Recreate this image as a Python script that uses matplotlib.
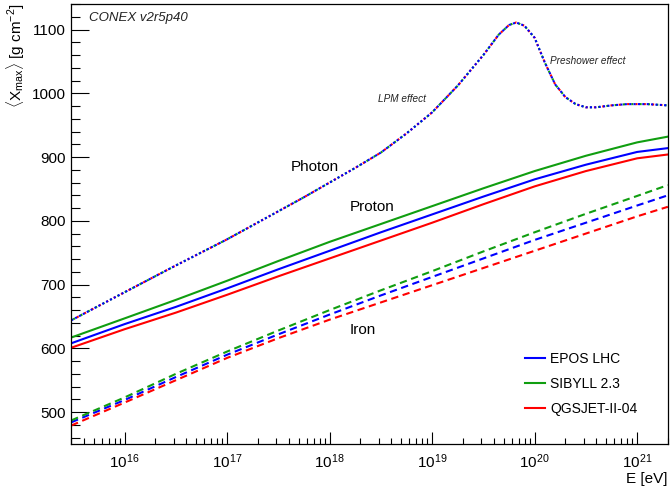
import numpy as np
import matplotlib
matplotlib.use("Agg")
import matplotlib.pyplot as plt
from matplotlib.ticker import MultipleLocator, LogLocator, NullFormatter, FixedLocator

plt.rcParams['font.family'] = ['Liberation Sans', 'DejaVu Sans']
plt.rcParams['mathtext.fontset'] = 'custom'
plt.rcParams['mathtext.rm'] = 'Liberation Sans'
plt.rcParams['mathtext.it'] = 'Liberation Sans:italic'

# log10(E/eV) sample points
logE = [15.48, 16.0, 16.5, 17.0, 17.5, 18.0, 18.5, 19.0, 19.5, 20.0, 20.5, 21.0, 21.3]

# proton <Xmax>
proton_epos = [608, 638, 665, 694, 724, 753, 782, 810, 838, 865, 888, 908, 914]
proton_sibyll = [617, 647, 676, 706, 737, 767, 795, 823, 851, 878, 902, 923, 932]
proton_qgsjet = [601, 630, 656, 684, 713, 741, 769, 797, 826, 854, 878, 898, 904]

# iron <Xmax>
iron_epos = [484, 519, 555, 590, 622, 653, 683, 712, 741, 770, 797, 824, 840]
iron_sibyll = [487, 523, 560, 595, 628, 660, 691, 721, 752, 782, 811, 839, 856]
iron_qgsjet = [479, 515, 550, 585, 616, 645, 672, 699, 726, 753, 780, 807, 822]

# photon <Xmax> (same for all models)
photon_logE = [15.48, 16.0, 16.5, 17.0, 17.5, 17.75, 18.0, 18.25, 18.5, 18.75,
               19.0, 19.25, 19.5, 19.65, 19.75, 19.82, 19.9, 20.0, 20.1, 20.2,
               20.3, 20.4, 20.5, 20.6, 20.75, 20.9, 21.1, 21.3]
photon_xmax = [644, 688, 730, 771, 815, 837, 860, 883, 907, 937,
               970, 1012, 1060, 1092, 1107, 1111, 1106, 1087, 1048, 1014,
               994, 983, 978, 978, 981, 983, 983, 981]

models = ['EPOS LHC', 'SIBYLL 2.3', 'QGSJET-II-04']
colors = ['#0000ff', '#109e10', '#ff0000']


fig = plt.figure(figsize=(6.7, 4.86), dpi=100)
ax = fig.add_axes([71 / 670, 42 / 486, 597 / 670, 440 / 486])

E = 10.0 ** np.array(logE)
Eg = 10.0 ** np.array(photon_logE)

protons = [proton_epos, proton_sibyll, proton_qgsjet]
irons = [iron_epos, iron_sibyll, iron_qgsjet]

# photons: the three models overlap, blue drawn last
ax.plot(Eg, photon_xmax, color=colors[2], lw=1.5, linestyle=(1, (1, 3)))
ax.plot(Eg, photon_xmax, color=colors[1], lw=1.5, linestyle=(3, (1, 3)))
ax.plot(Eg, photon_xmax, color=colors[0], lw=1.5, linestyle=(0, (1, 1.1)))

for i in range(3):
    ax.plot(E, protons[i], color=colors[i], lw=1.5, label=models[i])
    ax.plot(E, irons[i], color=colors[i], lw=1.5, linestyle=(0, (3.5, 2.2)))

ax.set_xscale('log')
ax.set_xlim(3e15, 2e21)
ax.set_ylim(450, 1140)

ax.yaxis.set_major_locator(MultipleLocator(100))
ax.yaxis.set_minor_locator(MultipleLocator(20))
ax.xaxis.set_major_locator(FixedLocator([1e16, 1e17, 1e18, 1e19, 1e20, 1e21]))
ax.xaxis.set_minor_locator(LogLocator(base=10, subs=np.arange(2, 10), numticks=20))
ax.xaxis.set_minor_formatter(NullFormatter())
ax.set_xticklabels([r'$\mathregular{10^{%d}}$' % k for k in range(16, 22)])

ax.tick_params(axis='both', which='both', direction='in', top=False, right=False,
               width=0.8, labelsize=11, colors='black')
ax.tick_params(axis='y', which='major', length=13, pad=4)
ax.tick_params(axis='y', which='minor', length=6.5)
ax.tick_params(axis='x', which='major', length=8.6, pad=6)
ax.tick_params(axis='x', which='minor', length=4.3)
for s in ax.spines.values():
    s.set_linewidth(0.9)

fig.text(16 / 670, 1 - 3 / 486, r'$\langle\mathrm{X}_{\mathrm{max}}\rangle$ [g cm$^{-2}$]',
         rotation=90, ha='center', va='top', fontsize=11)
fig.text(667 / 670, 1 - 479 / 486, 'E [eV]', ha='right', va='center', fontsize=11)

ax.text(89 / 670, 1 - 18 / 486, 'CONEX v2r5p40', transform=fig.transFigure,
        fontsize=9.5, style='italic', va='center', ha='left', color='#222222')
ax.text(378 / 670, 1 - 99 / 486, 'LPM effect', transform=fig.transFigure,
        fontsize=7.2, style='italic', va='center', ha='left', color='#222222')
ax.text(550 / 670, 1 - 61 / 486, 'Preshower effect', transform=fig.transFigure,
        fontsize=7.2, style='italic', va='center', ha='left', color='#222222')
ax.text(291 / 670, 1 - 167 / 486, 'Photon', transform=fig.transFigure,
        fontsize=11, va='center', ha='left')
ax.text(350 / 670, 1 - 207 / 486, 'Proton', transform=fig.transFigure,
        fontsize=11, va='center', ha='left')
ax.text(350 / 670, 1 - 330 / 486, 'Iron', transform=fig.transFigure,
        fontsize=11, va='center', ha='left')

ax.legend(loc='center left', bbox_to_anchor=((525 - 71) / 597, (444 - 384) / 440),
          frameon=False, fontsize=10, handlelength=1.45, handletextpad=0.36,
          labelspacing=0.8, borderpad=0, borderaxespad=0)

fig.savefig('out.png', dpi=100)
